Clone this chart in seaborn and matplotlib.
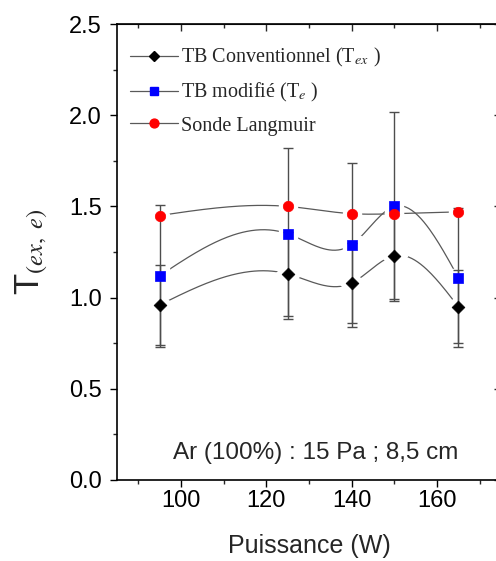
import numpy as np
import matplotlib
matplotlib.use('Agg')
import matplotlib.pyplot as plt
import seaborn as sns
from matplotlib.lines import Line2D
from matplotlib.ticker import MultipleLocator

# values
puissance = [95, 125, 140, 150, 165]
t_ex = [0.96, 1.13, 1.08, 1.23, 0.95]
t_ex_err = [0.22, 0.23, 0.22, 0.24, 0.20]
t_e = [1.12, 1.35, 1.29, 1.50, 1.11]
t_e_err = [0.39, 0.47, 0.45, 0.52, 0.38]
t_langmuir = [1.45, 1.50, 1.46, 1.46, 1.47]

labels = ['TB Conventionnel (T$_{\\mathit{ex}}$ )',
          'TB modifi\u00e9 (T$_{\\mathit{e}}$ )',
          'Sonde Langmuir']
colors = ['black', '#0000ff', '#ff0000']
markers = ['D', 's', 'o']
sizes = [6.5, 6.5, 7.5]


def natural_spline(x, y, n=200):
    # smooth curve through the points (same look as the original B-spline lines)
    x = np.asarray(x, float)
    y = np.asarray(y, float)
    k = len(x)
    h = np.diff(x)
    A = np.zeros((k, k))
    b = np.zeros(k)
    A[0, 0] = A[-1, -1] = 1
    for i in range(1, k - 1):
        A[i, i - 1] = h[i - 1]
        A[i, i] = 2 * (h[i - 1] + h[i])
        A[i, i + 1] = h[i]
        b[i] = 6 * ((y[i + 1] - y[i]) / h[i] - (y[i] - y[i - 1]) / h[i - 1])
    m = np.linalg.solve(A, b)
    xs = np.linspace(x[0], x[-1], n)
    idx = np.clip(np.searchsorted(x, xs) - 1, 0, k - 2)
    x0, x1 = x[idx], x[idx + 1]
    hh = x1 - x0
    t0, t1 = x1 - xs, xs - x0
    ys = (m[idx] * t0 ** 3 + m[idx + 1] * t1 ** 3) / (6 * hh) \
        + (y[idx] / hh - m[idx] * hh / 6) * t0 + (y[idx + 1] / hh - m[idx + 1] * hh / 6) * t1
    return xs, ys


sns.set_style('ticks')
plt.rcParams['font.family'] = ['Liberation Sans', 'DejaVu Sans']
plt.rcParams['mathtext.fontset'] = 'stix'

fig = plt.figure(figsize=(4.96, 5.61), dpi=100)
ax = fig.add_axes([0.236, 0.1444, 0.774, 0.8128])

series = [(t_ex, t_ex_err), (t_e, t_e_err), (t_langmuir, None)]

# smooth lines
for (vals, _), c in zip(series, colors):
    xs, ys = natural_spline(puissance, vals)
    sns.lineplot(x=xs, y=ys, ax=ax, color='0.35', lw=0.9, zorder=1, legend=False)

# white halos to leave a gap between line and symbol
for (vals, _), m in zip(series, markers):
    ax.plot(puissance, vals, ls='none', marker=m, ms=13, mfc='white', mec='white', zorder=2)

# error bars
for (vals, err), c in zip(series, colors):
    if err is not None:
        ax.errorbar(puissance, vals, yerr=err, fmt='none', ecolor='0.3', elinewidth=1,
                    capsize=3.5, capthick=1, zorder=3)

# symbols
for (vals, _), c, m, s in zip(series, colors, markers, sizes):
    sns.scatterplot(x=puissance, y=vals, ax=ax, color=c, marker=m, s=s ** 2,
                    edgecolor=c, linewidth=0.5, zorder=4, legend=False)

ax.set_xlim(85, 175)
ax.set_ylim(0, 2.5)
ax.xaxis.set_major_locator(MultipleLocator(20))
ax.xaxis.set_minor_locator(MultipleLocator(10))
ax.yaxis.set_major_locator(MultipleLocator(0.5))
ax.yaxis.set_minor_locator(MultipleLocator(0.25))
ax.yaxis.set_major_formatter(matplotlib.ticker.FormatStrFormatter('%.1f'))
ax.tick_params(which='major', direction='out', length=5, width=1, labelsize=17, colors='black')
ax.tick_params(which='minor', direction='out', length=3, width=1)
ax.tick_params(axis='x', pad=2)
ax.tick_params(axis='y', pad=6)
for sp in ax.spines.values():
    sp.set_visible(True)
    sp.set_linewidth(1.2)
    sp.set_color('black')

sec_top = ax.secondary_xaxis('top')
sec_top.xaxis.set_major_locator(MultipleLocator(20))
sec_top.xaxis.set_minor_locator(MultipleLocator(10))
sec_top.tick_params(which='major', direction='in', length=5, width=1, labeltop=False)
sec_top.tick_params(which='minor', direction='in', length=3, width=1)
sec_right = ax.secondary_yaxis('right')
sec_right.yaxis.set_major_locator(MultipleLocator(0.5))
sec_right.yaxis.set_minor_locator(MultipleLocator(0.25))
sec_right.tick_params(which='major', direction='in', length=5, width=1, labelright=False)
sec_right.tick_params(which='minor', direction='in', length=3, width=1)

ax.set_xlabel('Puissance (W)', fontsize=18, labelpad=16)
ax.set_ylabel('T$_{\\mathit{(ex,\\ e)}}$', fontsize=25, labelpad=14)

ax.text(98, 0.15, 'Ar (100%) : 15 Pa ; 8,5 cm', fontsize=17.5, va='center', ha='left')

handles = [Line2D([], [], color='0.35', lw=0.9, marker=m, mfc=c, mec=c, ms=s * 0.85)
           for c, m, s in zip(colors, markers, sizes)]
ax.legend(handles, labels, loc='upper left', bbox_to_anchor=(0.013, 0.969), frameon=False,
          prop={'family': ['Liberation Serif'], 'size': 14.5}, handlelength=2.4,
          handletextpad=0.15, labelspacing=0.6, borderaxespad=0)

fig.savefig('out.png', dpi=100)
